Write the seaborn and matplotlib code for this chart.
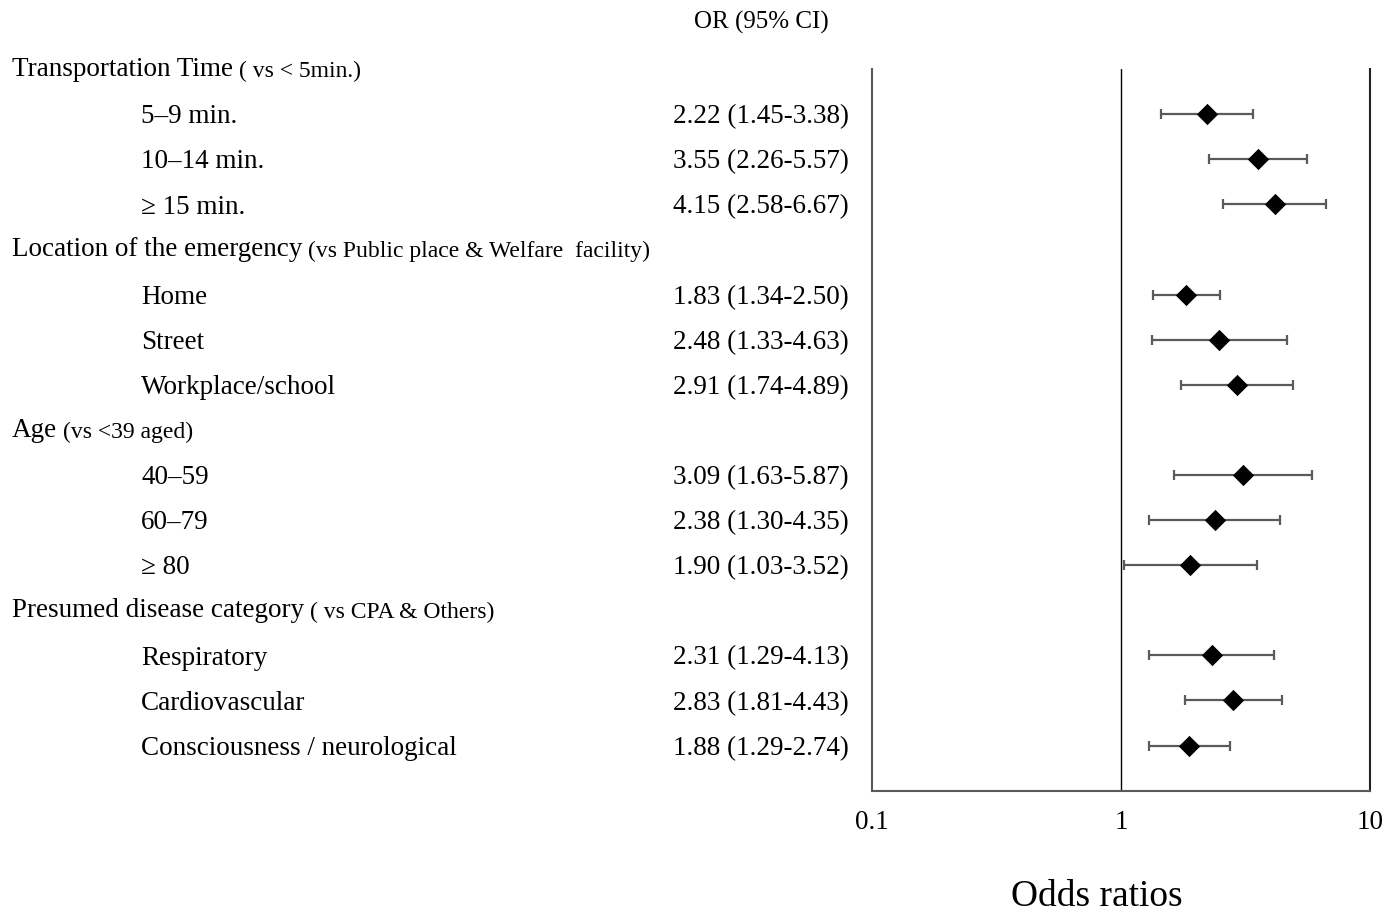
import numpy as np
import pandas as pd
import matplotlib
matplotlib.use("Agg")
import matplotlib.pyplot as plt
import matplotlib.transforms as mtransforms
import seaborn as sns

# ---------------- data ----------------
group_titles = ["Transportation Time", "Location of the emergency", "Age",
                "Presumed disease category"]
group_refs = ["( vs < 5min.)", "(vs Public place & Welfare  facility)",
              "(vs <39 aged)", "( vs CPA & Others)"]
item_labels = [
    ["5\u20139 min.", "10\u201314 min.", "\u2265 15 min."],
    ["Home", "Street", "Workplace/school"],
    ["40\u201359", "60\u201379", "\u2265 80"],
    ["Respiratory", "Cardiovascular", "Consciousness / neurological"],
]
odds = [[2.22, 3.55, 4.15], [1.83, 2.48, 2.91], [3.09, 2.38, 1.90], [2.31, 2.83, 1.88]]
ci_low = [[1.45, 2.26, 2.58], [1.34, 1.33, 1.74], [1.63, 1.30, 1.03], [1.29, 1.81, 1.29]]
ci_high = [[3.38, 5.57, 6.67], [2.50, 4.63, 4.89], [5.87, 4.35, 3.52], [4.13, 4.43, 2.74]]
xticks = [0.1, 1, 10]
xtick_labels = ["0.1", "1", "10"]

# ---------------- build table ----------------
rows = []
header_rows = []
r = 0
for g, title in enumerate(group_titles):
    header_rows.append(r)
    r += 1
    for i, lab in enumerate(item_labels[g]):
        rows.append(dict(row=r, label=lab, OR=odds[g][i], lo=ci_low[g][i], hi=ci_high[g][i]))
        r += 1
df = pd.DataFrame(rows)

# ---------------- figure ----------------
sns.set_theme(style="white")
plt.rcParams["font.family"] = ["Liberation Serif", "DejaVu Serif"]

fig = plt.figure(figsize=(14, 9.09), dpi=100)
ax = fig.add_axes([872 / 1400, 1 - 790.7 / 909, (1370 - 872) / 1400, (790.7 - 69) / 909])

ax.errorbar(df["OR"], df["row"],
            xerr=[df["OR"] - df["lo"], df["hi"] - df["OR"]],
            fmt="none", ecolor="#5a5a5a", elinewidth=1.6, capsize=3.5,
            capthick=1.6, zorder=2)
sns.scatterplot(data=df, x="OR", y="row", marker="D", s=118, color="black",
                edgecolor="black", linewidth=0, zorder=3, ax=ax, legend=False)

ax.axvline(1, color="black", lw=1.0, zorder=1)
ax.set_xscale("log")
ax.set_xlim(0.1, 10)
ax.set_ylim(16.0, 0.0)
ax.set_xticks(xticks)
ax.set_xticklabels(xtick_labels)
ax.xaxis.set_minor_locator(matplotlib.ticker.NullLocator())
ax.set_yticks([])
ax.tick_params(axis="x", length=0, pad=14, labelsize=19.5, colors="black")
ax.set_xlabel("Odds ratios", fontsize=27, color="black")
ax.xaxis.set_label_coords((1097 - 872) / 498, (790.7 - 897) / 721.7)
ax.xaxis.label.set_va("center")
ax.set_ylabel("")

for side in ["left", "bottom"]:
    ax.spines[side].set_color("#595959")
    ax.spines[side].set_linewidth(1.5)
ax.spines["right"].set_color("#222222")
ax.spines["right"].set_linewidth(1.5)
ax.spines["top"].set_visible(False)

trans = mtransforms.blended_transform_factory(fig.transFigure, ax.transData)
dy = 0.06  # small downward shift so the glyphs sit centred on the marker rows

# header rows
for g, hr in enumerate(header_rows):
    t = ax.text(12 / 1400, hr + dy - 0.05, group_titles[g], transform=trans, ha="left",
                va="center", fontsize=19.5, color="black", clip_on=False)
    ax.annotate(group_refs[g], xy=(1, 0), xycoords=t, xytext=(4, 0),
                textcoords="offset points", ha="left", va="bottom",
                fontsize=17, color="black", annotation_clip=False)

# item rows
for _, rw in df.iterrows():
    ax.text(141 / 1400, rw["row"] + dy, rw["label"], transform=trans, ha="left",
            va="center", fontsize=19.5, color="black", clip_on=False)
    ax.text(673 / 1400, rw["row"] + dy, f"{rw['OR']:.2f} ({rw['lo']:.2f}-{rw['hi']:.2f})",
            transform=trans, ha="left", va="center", fontsize=19.5,
            color="black", clip_on=False)

fig.text(761 / 1400, 1 - 22 / 909, "OR (95% CI)", ha="center", va="center",
         fontsize=18, color="black")

fig.savefig("out.png", dpi=100, facecolor="white")
